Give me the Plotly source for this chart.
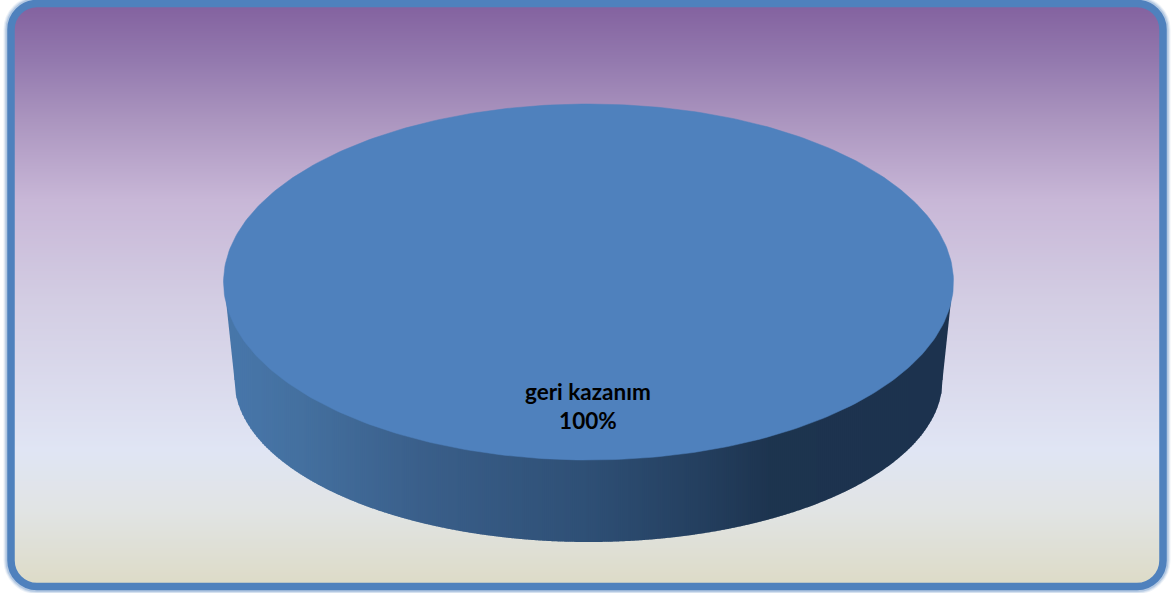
import numpy as np
import plotly.graph_objects as go

# ---- data ----
categories = ["geri kazanım"]
values = [100]
slice_colors = ["#4f81bd"]

# ---- picture geometry (pixel axes) ----
W, H = 1171, 593
TOP_CX, TOP_CY, TOP_RX, TOP_RY = 588.5, 282, 365, 178
BASE_CY, BASE_RX, BASE_RY = 380, 354, 162

bg_stops = [(8, "#8463a0"), (60, "#9379ae"), (120, "#ab95bf"), (200, "#c8b7d7"),
            (300, "#d3cde3"), (450, "#e0e5f4"), (510, "#e1e4e4"), (584, "#dddbc7")]
wall_stops = [(224, "#4877ab"), (300, "#44709f"), (420, "#3a5f8a"), (590, "#2e4f75"),
              (700, "#243f5f"), (770, "#1d344f"), (953, "#1c324e")]


def hex2rgb(c):
    return np.array([int(c[i:i + 2], 16) for i in (1, 3, 5)], float)


def lerp(stops, t):
    pos = [s[0] for s in stops]
    cols = np.array([hex2rgb(s[1]) for s in stops])
    r = [np.interp(t, pos, cols[:, k]) for k in range(3)]
    return "rgb(%d,%d,%d)" % tuple(round(v) for v in r)


FRAME_L, FRAME_R, FRAME_T, FRAME_B, FRAME_RAD = 11, 1163, 3.5, 586.5, 26


def rounded(l, r, t, b, rad):
    k = rad * 0.45
    return (f"M{l + rad},{t} L{r - rad},{t} C{r - k},{t} {r},{t + k} {r},{t + rad} "
            f"L{r},{b - rad} C{r},{b - k} {r - k},{b} {r - rad},{b} "
            f"L{l + rad},{b} C{l + k},{b} {l},{b - k} {l},{b - rad} "
            f"L{l},{t + rad} C{l},{t + k} {l + k},{t} {l + rad},{t} Z")


shapes = []
# soft glow outside the frame first, so the background covers its inner half
for w, a in [(15, 0.10), (13, 0.15), (11, 0.25)]:
    shapes.append(dict(type="path", layer="below",
                       path=rounded(FRAME_L, FRAME_R, FRAME_T, FRAME_B, FRAME_RAD),
                       line=dict(color=f"rgba(79,129,189,{a})", width=w)))
# vertical background gradient, one band per pixel row, kept inside the frame
for y in range(int(FRAME_T), int(FRAME_B) + 1):
    d = 0
    if y < FRAME_T + FRAME_RAD:
        d = FRAME_T + FRAME_RAD - y
    elif y > FRAME_B - FRAME_RAD:
        d = y - (FRAME_B - FRAME_RAD)
    inset = FRAME_RAD - np.sqrt(max(FRAME_RAD ** 2 - d ** 2, 0))
    shapes.append(dict(type="rect", layer="below", xref="x", yref="y",
                       x0=FRAME_L + inset, x1=FRAME_R - inset, y0=y, y1=y + 1,
                       fillcolor=lerp(bg_stops, y), line_width=0))
# the frame itself
shapes.append(dict(type="path", layer="below",
                   path=rounded(FRAME_L, FRAME_R, FRAME_T, FRAME_B, FRAME_RAD),
                   line=dict(color="#4f81bd", width=7.5)))

fig = go.Figure()


def wall_lower(x):
    """Lower outline of the pie's side wall at horizontal position x."""
    u = (x - TOP_CX) / BASE_RX
    if abs(u) < 1:
        return BASE_CY + BASE_RY * np.sqrt(1 - u ** 2)
    return BASE_CY


# the two slanted edges joining the top rim to the narrower base (under the strips)
for x_top, x_base, x_in in [(TOP_CX - TOP_RX + 0.5, TOP_CX - BASE_RX, TOP_CX - BASE_RX + 12),
                            (TOP_CX + TOP_RX - 0.5, TOP_CX + BASE_RX, TOP_CX + BASE_RX - 12)]:
    fig.add_trace(go.Scatter(
        x=[x_top, x_base, x_in, x_in, x_top], y=[TOP_CY, BASE_CY, BASE_CY, TOP_CY, TOP_CY],
        mode="lines", fill="toself", fillcolor=lerp(wall_stops, x_base), line_width=0,
        hoverinfo="skip", showlegend=False))

# side wall: narrow vertical strips shaded left to right
STEP = 2
for xs in np.arange(TOP_CX - BASE_RX, TOP_CX + BASE_RX, STEP):
    xe = min(xs + STEP + 0.8, TOP_CX + BASE_RX)
    px = np.linspace(xs, xe, 3)
    py = [wall_lower(v) for v in px]
    fig.add_trace(go.Scatter(
        x=[xs, *px, xe], y=[TOP_CY, *py, TOP_CY], mode="lines", fill="toself",
        fillcolor=lerp(wall_stops, xs), line_width=0, hoverinfo="skip", showlegend=False))

# top face: slices built from the values
total = sum(values)
start = 0.0
for cat, val, col in zip(categories, values, slice_colors):
    sweep = 2 * np.pi * val / total
    th = np.linspace(start, start + sweep, 361)
    fig.add_trace(go.Scatter(
        x=TOP_CX + TOP_RX * np.sin(th), y=TOP_CY - TOP_RY * np.cos(th),
        mode="lines", fill="toself", fillcolor=col, line=dict(color=col, width=0.5),
        name=cat, hoverinfo="name", showlegend=False))
    start += sweep

# slice label
for cat, val in zip(categories, values):
    fig.add_annotation(
        x=TOP_CX - 0.5, y=406, xref="x", yref="y", showarrow=False, align="center",
        text=f"<b>{cat}<br>{round(100 * val / total)}%</b>",
        font=dict(family="Lato, Carlito, sans-serif", size=22.5, color="#000000"))

fig.update_layout(
    width=W, height=H, autosize=False, margin=dict(l=0, r=0, t=0, b=0),
    paper_bgcolor="#ffffff", plot_bgcolor="rgba(0,0,0,0)", shapes=shapes,
    xaxis=dict(range=[0, W], visible=False, fixedrange=True),
    yaxis=dict(range=[H, 0], visible=False, fixedrange=True),
)
fig.write_html("out.html", config=dict(displayModeBar=False),
               post_script="document.body.style.margin='0';document.body.style.overflow='hidden';")
